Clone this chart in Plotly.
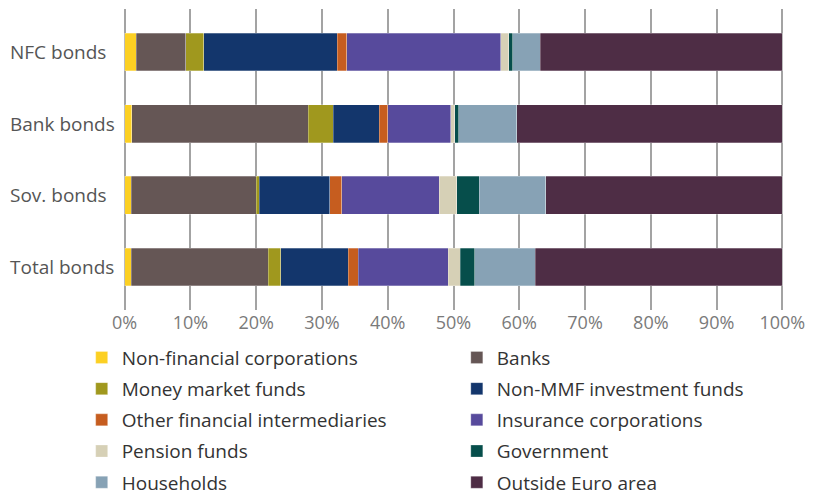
import plotly.graph_objects as go

# bond types (top to bottom)
categories = ["NFC bonds", "Bank bonds", "Sov. bonds", "Total bonds"]

# holder shares in % per bond type, same order as categories
nfc_corps = [1.8, 1.1, 1.0, 1.0]
banks = [7.5, 26.8, 19.0, 20.8]
mmf = [2.7, 3.8, 0.5, 1.9]
non_mmf = [20.3, 7.0, 10.7, 10.3]
ofi = [1.5, 1.3, 1.8, 1.5]
insurance = [23.4, 9.6, 14.8, 13.7]
pension = [1.2, 0.6, 2.7, 1.8]
government = [0.6, 0.6, 3.4, 2.2]
households = [4.2, 8.8, 10.1, 9.2]
outside_ea = [36.8, 40.4, 36.0, 37.6]

tick_vals = [0, 10, 20, 30, 40, 50, 60, 70, 80, 90, 100]
tick_text = ["0%", "10%", "20%", "30%", "40%", "50%", "60%", "70%", "80%", "90%", "100%"]

series = [
    ("Non-financial corporations", nfc_corps, "#FCD023", "legend"),
    ("Banks", banks, "#655655", "legend2"),
    ("Money market funds", mmf, "#A0981E", "legend"),
    ("Non-MMF investment funds", non_mmf, "#13366C", "legend2"),
    ("Other financial intermediaries", ofi, "#C65D1F", "legend"),
    ("Insurance corporations", insurance, "#574A9C", "legend2"),
    ("Pension funds", pension, "#D6D0B6", "legend"),
    ("Government", government, "#064E4B", "legend2"),
    ("Households", households, "#87A2B5", "legend"),
    ("Outside Euro area", outside_ea, "#4E2D45", "legend2"),
]

FONT = "Open Sans"

fig = go.Figure()
for name, vals, color, leg in series:
    fig.add_trace(go.Bar(
        y=categories, x=vals, name=name, orientation="h",
        marker=dict(color=color, line=dict(color="rgba(255,255,255,0.45)", width=0.6)),
        width=0.53, legend=leg, legendgroup=name,
    ))

leg_style = dict(
    font=dict(family=FONT, size=19, color="#333333"),
    bgcolor="rgba(0,0,0,0)", tracegroupgap=3.5,
    yanchor="top", xanchor="left", y=-0.095,
)

# the page body adds an 8px margin, so the figure is laid out 8px up/left
fig.update_layout(
    barmode="stack",
    width=815, height=496,
    margin=dict(l=114, r=38, t=1, b=194, autoexpand=False),
    plot_bgcolor="white", paper_bgcolor="white",
    font=dict(family=FONT, color="#444444"),
    xaxis=dict(
        range=[-0.4, 100.4], tickvals=tick_vals, ticktext=tick_text,
        showgrid=True, gridcolor="#A3A3A3", gridwidth=1.5, zeroline=False,
        tickfont=dict(family=FONT, size=18, color="#7A7A7A"), ticks="",
    ),
    yaxis=dict(
        categoryorder="array", categoryarray=categories,
        range=[3.6, -0.6], showticklabels=False, showgrid=False, zeroline=False,
    ),
    legend=dict(x=-0.0608, **leg_style),
    legend2=dict(x=0.505, **leg_style),
    bargap=0.47,
)

for cat in categories:
    fig.add_annotation(
        x=0, xref="paper", y=cat, yref="y", text=cat, showarrow=False,
        xanchor="left", borderpad=0, xshift=-113,
        font=dict(family=FONT, size=19, color="#555555"),
    )

fig.write_html("out.html")
